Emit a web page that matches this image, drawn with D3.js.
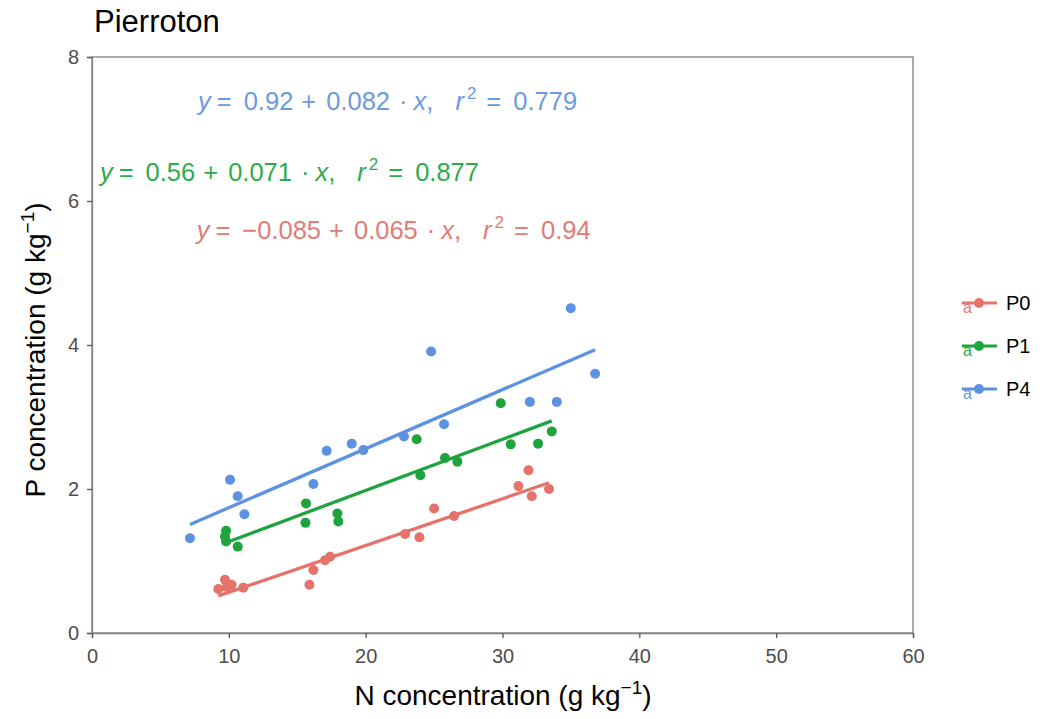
<!DOCTYPE html>
<html><head><meta charset="utf-8">
<script src="https://cdn.jsdelivr.net/npm/d3@7"></script>
<style>
body{margin:0;background:#fff;}
svg{font-family:"Liberation Sans",Arial,Helvetica,sans-serif;}
</style></head>
<body><svg id="c" width="1046" height="719"></svg>
<script>
const groups = ["P0","P1","P4"];
const colors = ["#e5736b","#1ea33d","#5d92e2"];
const textColors = ["#e07c76","#2fab4b","#6a9ae0"];
const xTicks = [0,10,20,30,40,50,60];
const yTicks = [0,2,4,6,8];

const p0N = [9.23,9.72,9.84,10.2,11.06,15.89,16.18,17.03,17.4,22.88,23.93,25.0,26.46,31.16,31.9,32.14,33.4];
const p0P = [0.61,0.74,0.64,0.67,0.63,0.67,0.875,1.01,1.06,1.375,1.33,1.73,1.625,2.04,2.26,1.90,2.00];
const p1N = [9.80,9.72,9.80,10.65,15.64,15.6,17.93,18.0,23.73,24.0,25.8,26.7,29.87,30.6,32.6,33.6];
const p1P = [1.42,1.34,1.27,1.20,1.80,1.53,1.66,1.55,2.69,2.19,2.43,2.38,3.19,2.62,2.63,2.80];
const p4N = [7.16,10.09,10.65,11.14,16.18,17.15,18.98,19.83,22.8,24.78,25.73,32.0,33.97,34.99,36.77];
const p4P = [1.315,2.13,1.90,1.65,2.07,2.53,2.63,2.54,2.73,3.91,2.90,3.21,3.21,4.51,3.60];

const intercepts = [-0.085,0.56,0.92];
const slopes = [0.065,0.071,0.082];
const interceptText = ["\u22120.085","0.56","0.92"];
const slopeText = ["0.065","0.071","0.082"];
const r2Text = ["0.94","0.877","0.779"];

const series = [[p0N,p0P],[p1N,p1P],[p4N,p4P]];
const labelPos = [[7.65,5.6],[0.58,6.4],[7.75,7.39]];

const svg = d3.select("#c");
const m = {l:92,r:913,t:57,b:633};
const x = d3.scaleLinear().domain([0,60]).range([m.l,m.r]);
const y = d3.scaleLinear().domain([0,8]).range([m.b,m.t]);

// panel border
svg.append("rect").attr("x",m.l).attr("y",m.t).attr("width",m.r-m.l).attr("height",m.b-m.t)
  .attr("fill","none").attr("stroke","#808080").attr("stroke-width",1.3);

const gx = svg.append("g").attr("transform",`translate(0,${m.b})`)
  .call(d3.axisBottom(x).tickValues(xTicks).tickSize(5).tickPadding(11));
const gy = svg.append("g").attr("transform",`translate(${m.l},0)`)
  .call(d3.axisLeft(y).tickValues(yTicks).tickSize(5).tickPadding(8));
[gx,gy].forEach(g=>{
  g.attr("font-family",null).attr("font-size",null);
  g.select(".domain").attr("stroke","#808080").attr("stroke-width",1.3);
  g.selectAll(".tick line").attr("stroke","#555").attr("stroke-width",1.3);
  g.selectAll(".tick text").attr("fill","#4d4d4d").style("font-size","20px");
});

// lines and points
series.forEach((s,i)=>{
  const [xs,ys] = s;
  const x0 = d3.min(xs), x1 = d3.max(xs);
  svg.append("line")
    .attr("x1",x(x0)).attr("y1",y(intercepts[i]+slopes[i]*x0))
    .attr("x2",x(x1)).attr("y2",y(intercepts[i]+slopes[i]*x1))
    .attr("stroke",colors[i]).attr("stroke-width",3.3);
  svg.append("g").selectAll("circle").data(xs.map((v,j)=>[v,ys[j]])).join("circle")
    .attr("cx",d=>x(d[0])).attr("cy",d=>y(d[1])).attr("r",5).attr("fill",colors[i]);
});

// equations
series.forEach((s,i)=>{
  const t = svg.append("text").attr("x",x(labelPos[i][0])).attr("y",y(labelPos[i][1])+9)
    .attr("fill",textColors[i]).style("font-size","25.5px");
  t.append("tspan").attr("font-style","italic").text("y");
  t.append("tspan").attr("dx",6).text("=");
  t.append("tspan").attr("dx",12).text(interceptText[i]);
  t.append("tspan").attr("dx",8).text("+");
  t.append("tspan").attr("dx",10).text(slopeText[i]);
  t.append("tspan").attr("dx",9).text("\u00b7");
  t.append("tspan").attr("dx",6).attr("font-style","italic").text("x");
  t.append("tspan").text(",");
  t.append("tspan").attr("dx",22).attr("font-style","italic").text("r");
  t.append("tspan").attr("dx",3).attr("dy",-11).style("font-size","17px").text("2");
  t.append("tspan").attr("dx",10).attr("dy",11).text("=");
  t.append("tspan").attr("dx",12).text(r2Text[i]);
});

// title
svg.append("text").attr("x",94).attr("y",32).style("font-size","31px").attr("fill","#000").text("Pierroton");

// axis titles
const xl = svg.append("text").attr("x",503).attr("y",705).attr("text-anchor","middle")
  .style("font-size","28px").attr("fill","#000");
xl.append("tspan").text("N concentration (g kg");
xl.append("tspan").attr("dy",-11).style("font-size","19px").text("\u22121");
xl.append("tspan").attr("dy",11).text(")");
const yl = svg.append("text").attr("transform",`translate(45,${350}) rotate(-90)`).attr("text-anchor","middle")
  .style("font-size","28px").attr("fill","#000");
yl.append("tspan").text("P concentration (g kg");
yl.append("tspan").attr("dy",-11).style("font-size","19px").text("\u22121");
yl.append("tspan").attr("dy",11).text(")");

// legend
const legY = [303,346,389];
groups.forEach((g,i)=>{
  const lg = svg.append("g").attr("transform",`translate(962,${legY[i]})`);
  lg.append("line").attr("x1",0).attr("x2",35).attr("y1",0).attr("y2",0).attr("stroke",colors[i]).attr("stroke-width",3);
  lg.append("circle").attr("cx",17).attr("cy",0).attr("r",5).attr("fill",colors[i]);
  lg.append("text").attr("x",1).attr("y",10).style("font-size","16px").attr("fill",textColors[i]).text("a");
  lg.append("text").attr("x",1006-962).attr("y",7).style("font-size","20px").attr("fill","#000").text(g);
});
</script></body></html>
